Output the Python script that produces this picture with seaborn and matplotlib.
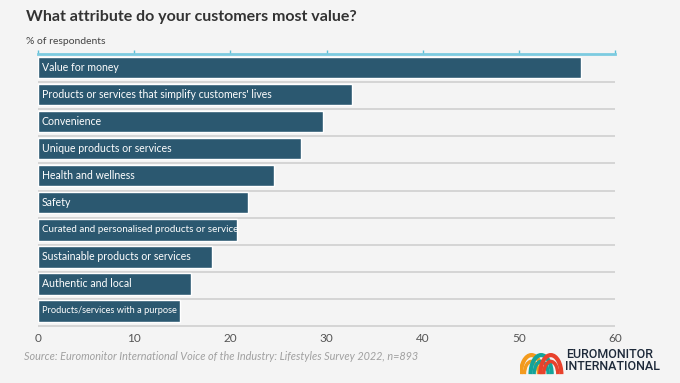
import matplotlib
matplotlib.use("Agg")
import matplotlib.pyplot as plt
from matplotlib.patches import Arc
from matplotlib.transforms import Bbox, TransformedBbox
import seaborn as sns
import pandas as pd

attributes = [
    "Value for money",
    "Products or services that simplify customers' lives",
    "Convenience",
    "Unique products or services",
    "Health and wellness",
    "Safety",
    "Curated and personalised products or services",
    "Sustainable products or services",
    "Authentic and local",
    "Products/services with a purpose",
]
share = [56.5, 32.6, 29.6, 27.4, 24.5, 21.8, 20.7, 18.1, 15.9, 14.8]
x_ticks = [0, 10, 20, 30, 40, 50, 60]

bg = "#f4f4f4"
bar_col = "#2b5870"
df = pd.DataFrame({"attribute": attributes, "share": share})

sns.set_style("white")
plt.rcParams["font.family"] = ["Lato", "DejaVu Sans"]

fig = plt.figure(figsize=(6.8, 3.83), dpi=100, facecolor=bg)
W, H = 680, 383
ax = fig.add_axes([38 / W, 1 - 327 / H, 577 / W, 273 / H], facecolor=bg)

sns.barplot(data=df, x="share", y="attribute", color=bar_col, width=0.8,
            saturation=1, ax=ax, zorder=3)

# row separators
for i in range(len(attributes)):
    ax.axhline(i + 0.55, color="#d2d2d2", lw=1.3, zorder=1)

# labels inside bars, clipped to the bar's extent
for patch, label in zip(ax.patches, attributes):
    y0 = patch.get_y()
    h = patch.get_height()
    fs = 7.6
    if label.startswith("Curated"):
        fs = 7.1
    elif label.startswith("Products/"):
        fs = 6.7
    t = ax.text(0.4, y0 + h / 2, label, color="white", fontsize=fs,
                va="center", ha="left", zorder=4)
    t.set_clip_box(TransformedBbox(Bbox([[0, y0], [patch.get_width(), y0 + h]]),
                                   ax.transData))
    t.set_clip_on(True)

ax.set_xlim(0, 60)
ax.set_ylim(9.6, -0.5)
ax.set_xticks(x_ticks)
ax.set_yticks([])
ax.set_xlabel("")
ax.set_ylabel("")
ax.tick_params(axis="x", top=True, bottom=False, labeltop=False, labelbottom=True,
               direction="out", length=3, color="#5fbfd6", width=1,
               labelsize=8.5, labelcolor="#555555", pad=1)
for s in ["left", "right", "bottom"]:
    ax.spines[s].set_visible(False)
ax.spines["top"].set_color("#7ccbe0")
ax.spines["top"].set_linewidth(2)

fig.text(26 / W, 1 - 17 / H, "What attribute do your customers most value?",
         fontsize=11.5, fontweight="bold", color="#333333", va="center")
fig.text(26 / W, 1 - 41 / H, "% of respondents", fontsize=7.5,
         color="#444444", va="center")
fig.text(24 / W, 1 - 356 / H,
         "Source: Euromonitor International Voice of the Industry: Lifestyles Survey 2022, n=893",
         fontsize=7.8, style="italic", color="#a0a0a0", va="center")

# logo
lax = fig.add_axes([520 / W, 1 - 376 / H, 44 / W, 28 / H])
lax.set_axis_off()
lax.set_xlim(0, 5)
lax.set_ylim(0, 3)
for cx, col in zip([1.3, 2.4, 3.5], ["#f39a1e", "#14a39a", "#e8412c"]):
    for r, lw in [(1.2, 3), (0.8, 2.5)]:
        lax.add_patch(Arc((cx, 0.2), 2 * r, 2 * r * 1.7, theta1=0, theta2=180,
                          color=col, lw=lw))
fig.text(566 / W, 1 - 354 / H, "EUROMONITOR", fontsize=9, fontweight="medium",
         color="#1e2a3a", va="center", family=["Roboto", "DejaVu Sans"])
fig.text(565 / W, 1 - 367 / H, "INTERNATIONAL", fontsize=9, fontweight="medium",
         color="#1e2a3a", va="center", family=["Roboto", "DejaVu Sans"])

fig.savefig("out.png", dpi=100, facecolor=bg)
